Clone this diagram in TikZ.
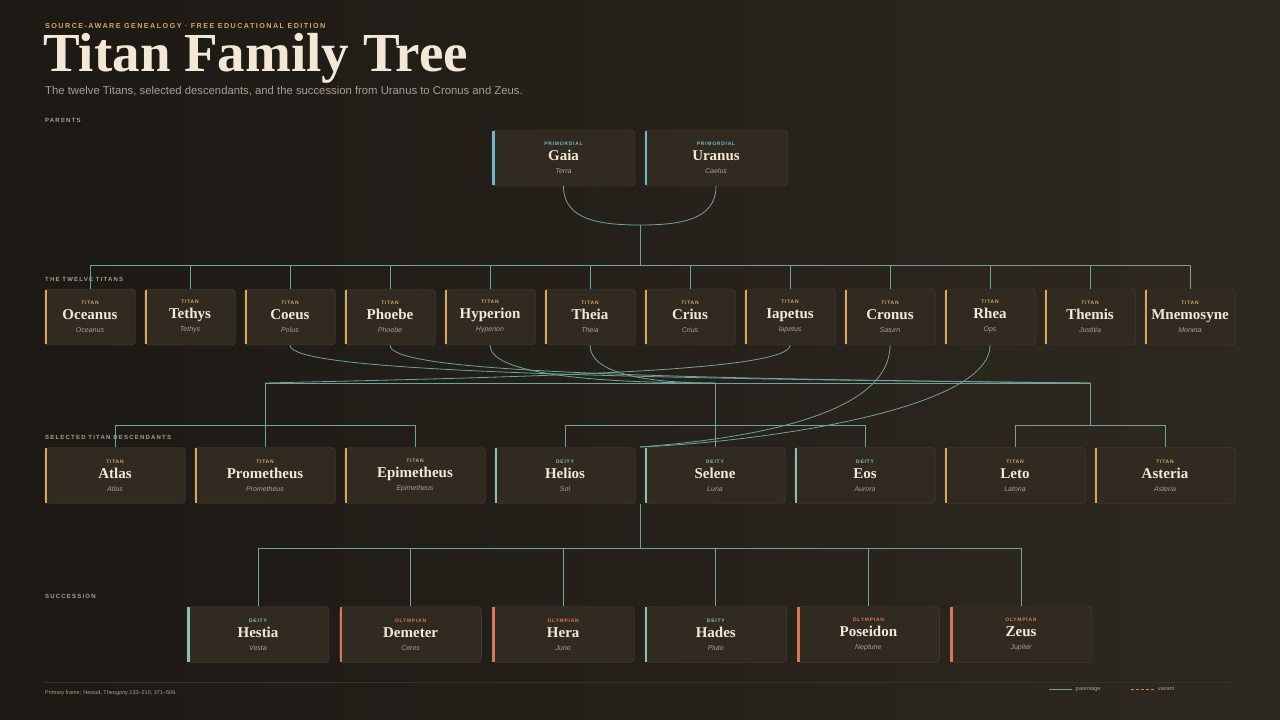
\documentclass[tikz,border=0pt]{standalone}
\usepackage{fontspec}
\setmainfont{Liberation Serif}
\setsansfont{Liberation Sans}
\usetikzlibrary{positioning,calc}
\definecolor{bgdark}{HTML}{1C1814}
\definecolor{bglight}{HTML}{2E2920}
\definecolor{boxfill}{HTML}{312A21}
\definecolor{boxedge}{HTML}{4A4236}
\definecolor{gold}{HTML}{D9A75A}
\definecolor{sky}{HTML}{6FB8C8}
\definecolor{teal}{HTML}{8CC0B3}
\definecolor{coral}{HTML}{D9775A}
\definecolor{wire}{HTML}{6FA39B}
\definecolor{cream}{HTML}{F2E8D5}
\definecolor{muted}{HTML}{A89F90}
\tikzset{
  person/.style={draw=boxedge, fill=boxfill, rounded corners=4pt, minimum height=56pt, inner sep=0pt, align=center, font=\sffamily},
  link/.style={draw=wire, line width=0.8pt},
  section/.style={anchor=west, text=muted, font=\sffamily\bfseries\fontsize{6}{7}\selectfont\addfontfeatures{LetterSpace=20}}
}
% id, x, y, width, kind, name, alt, accent
\newcommand{\person}[8]{%
  \node[person, minimum width=#4pt, text width=#4pt] (#1) at (#2,#3)
    {{\color{#8}\bfseries\fontsize{5}{6}\selectfont\addfontfeatures{LetterSpace=15}#5}\\[3pt]
     {\color{cream}\rmfamily\bfseries\fontsize{15}{16}\selectfont #6}\\[1pt]
     {\color{muted}\itshape\fontsize{7}{8}\selectfont #7}};
  \draw[#8, line width=2.5pt] ([xshift=1.5pt,yshift=-1pt]#1.north west) -- ([xshift=1.5pt,yshift=1pt]#1.south west);}
\begin{document}
\begin{tikzpicture}[x=1pt, y=-1pt]
  \useasboundingbox (0,0) rectangle (1280,720);
  \shade[left color=bgdark, right color=bglight] (0,0) rectangle (1280,720);
  % Header
  \node[anchor=west, text=gold, font=\sffamily\bfseries\fontsize{7.2}{8}\selectfont\addfontfeatures{LetterSpace=20}, inner sep=0pt] (kicker) at (45,26) {SOURCE-AWARE GENEALOGY · FREE EDUCATIONAL EDITION};
  \node[anchor=west, text=cream, font=\rmfamily\bfseries\fontsize{55}{57}\selectfont, inner sep=0pt] (title) at (43,58) {Titan Family Tree};
  \node[anchor=west, text=muted, font=\sffamily\fontsize{11.3}{12}\selectfont, inner sep=0pt] (sub) at (45,91) {The twelve Titans, selected descendants, and the succession from Uranus to Cronus and Zeus.};
  \node[section, inner sep=0pt] (s1) at (45,120) {PARENTS};
  \node[section, inner sep=0pt] (s2) at (45,279) {THE TWELVE TITANS};
  \node[section, inner sep=0pt] (s3) at (45,437) {SELECTED TITAN DESCENDANTS};
  \node[section, inner sep=0pt] (s4) at (45,596) {SUCCESSION};
  % Parents
  \person{gaia}{563.5}{158}{143}{PRIMORDIAL}{Gaia}{Terra}{sky}
  \person{uranus}{716}{158}{143}{PRIMORDIAL}{Uranus}{Caelus}{sky}
  % Titans
  \foreach \id/\name/\alt [count=\i from 0] in {oceanus/Oceanus/Oceanus, tethys/Tethys/Tethys, coeus/Coeus/Polus, phoebe/Phoebe/Phoebe, hyperion/Hyperion/Hyperion, theia/Theia/Theia, crius/Crius/Crius, iapetus/Iapetus/Iapetus, cronus/Cronus/Saturn, rhea/Rhea/Ops, themis/Themis/Justitia, mnemosyne/Mnemosyne/Moneta}
    {\person{\id}{90+100*\i}{317}{91}{TITAN}{\name}{\alt}{gold}}
  % Descendants
  \foreach \id/\kind/\name/\alt/\col [count=\i from 0] in {atlas/TITAN/Atlas/Atlas/gold, prometheus/TITAN/Prometheus/Prometheus/gold, epimetheus/TITAN/Epimetheus/Epimetheus/gold, helios/DEITY/Helios/Sol/teal, selene/DEITY/Selene/Luna/teal, eos/DEITY/Eos/Aurora/teal, leto/TITAN/Leto/Latona/gold, asteria/TITAN/Asteria/Asteria/gold}
    {\person{\id}{115+150*\i}{475.5}{141}{\kind}{\name}{\alt}{\col}}
  % Succession
  \foreach \id/\kind/\name/\alt/\col [count=\i from 0] in {hestia/DEITY/Hestia/Vesta/teal, demeter/OLYMPIAN/Demeter/Ceres/coral, hera/OLYMPIAN/Hera/Juno/coral, hades/DEITY/Hades/Pluto/teal, poseidon/OLYMPIAN/Poseidon/Neptune/coral, zeus/OLYMPIAN/Zeus/Jupiter/coral}
    {\person{\id}{258+152.6*\i}{634.5}{142}{\kind}{\name}{\alt}{\col}}
  % Links
  \coordinate (pp) at (640,225);
  \coordinate (pbus) at (640,265);
  \coordinate (iap) at (265,383);
  \coordinate (hyt) at (715,383);
  \coordinate (cop) at (1090,383);
  \coordinate (crr) at (640,447);
  \draw[link] (gaia.south) .. controls (563.5,220) and (600,225) .. (pp);
  \draw[link] (uranus.south) .. controls (716,220) and (680,225) .. (pp);
  \draw[link] (pp) -- (pbus);
  \draw[link] (90,265) -- (1190,265);
  \foreach \id in {oceanus, tethys, coeus, phoebe, hyperion, theia, crius, iapetus, cronus, rhea, themis, mnemosyne}
    \draw[link] (\id.north |- pbus) -- (\id.north);
  \draw[link] (iapetus.south) .. controls (790,372) and (520,377) .. (iap);
  \draw[link] (coeus.south) .. controls (290,370) and (560,378) .. (cop);
  \draw[link] (phoebe.south) .. controls (390,370) and (600,378) .. (cop);
  \draw[link] (hyperion.south) .. controls (490,372) and (580,383) .. (hyt);
  \draw[link] (theia.south) .. controls (590,372) and (640,383) .. (hyt);
  \draw[link] (iap) -- (cop);
  \draw[link] (cronus.south) .. controls (890,420) and (730,440) .. (crr);
  \draw[link] (rhea.south) .. controls (990,410) and (760,442) .. (crr);
  \draw[link] (iap) -- (265,425) (115,425) -- (415,425);
  \draw[link] (hyt) -- (selene.north) (565,425) -- (865,425);
  \draw[link] (cop) -- (1090,425) (1015,425) -- (1165,425);
  \foreach \id in {atlas, prometheus, epimetheus, helios, eos, leto, asteria}
    \draw[link] (\id.north |- 0,425) -- (\id.north);
  \draw[link] (640,504) -- (640,548) (hestia.north |- 0,548) -- (zeus.north |- 0,548);
  \foreach \id in {hestia, demeter, hera, hades, poseidon, zeus}
    \draw[link] (\id.north |- 0,548) -- (\id.north);
  % Footer
  \draw[boxedge!60!bgdark, line width=0.5pt] (45,682) -- (1235,682);
  \node[anchor=west, text=muted, font=\sffamily\fontsize{5.5}{6}\selectfont, inner sep=0pt] (src) at (45,693) {Primary frame: Hesiod, Theogony 133–210, 371–506.};
  \coordinate (l1) at (1049,689);
  \coordinate (l2) at (1131,689);
  \draw[link] (l1) -- ++(23,0) node[right, text=muted, font=\sffamily\fontsize{5.5}{6}\selectfont] (lp) {parentage};
  \draw[coral, line width=0.9pt, dash pattern=on 3pt off 2pt] (l2) -- ++(23,0) node[right, text=muted, font=\sffamily\fontsize{5.5}{6}\selectfont] (lv) {variant};
\end{tikzpicture}
\end{document}
